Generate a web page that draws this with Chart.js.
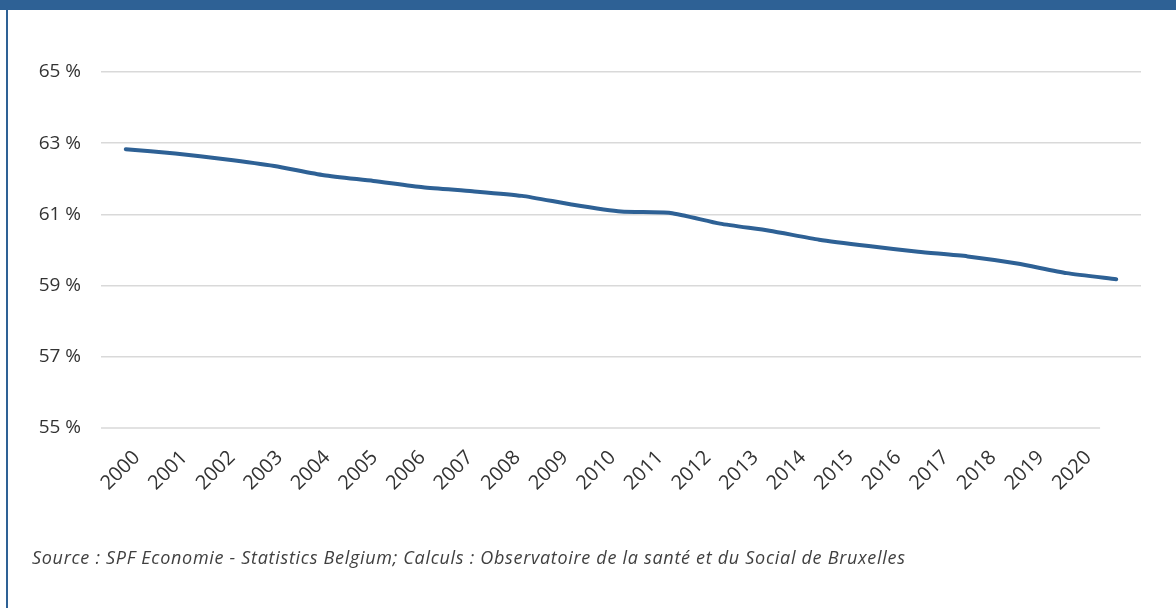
<!DOCTYPE html>
<html lang="fr">
<head>
<meta charset="utf-8">
<title>Évolution 2000-2020</title>
<script src="https://cdn.jsdelivr.net/npm/chart.js@4/dist/chart.umd.min.js"></script>
<style>
  html, body { margin: 0; padding: 0; background: #fff; }
  #cadre { position: relative; width: 1176px; height: 608px; overflow: hidden; }
  #bandeau { position: absolute; left: 0; top: 0; width: 1176px; height: 10px; background: #2e6195; }
  #bord { position: absolute; left: 6px; top: 10px; width: 2px; height: 598px; background: #2e6195; }
  #zone { position: absolute; left: 0; top: 0; width: 1176px; height: 608px; }
  #source {
    position: absolute; left: 32px; top: 545px;
    font: italic 18px "Open Sans", sans-serif; letter-spacing: 0.7px;
    color: #404040; white-space: nowrap;
  }
</style>
</head>
<body>
<div id="cadre">
  <div id="bandeau"></div>
  <div id="bord"></div>
  <div id="zone"><canvas id="graphique"></canvas></div>
  <div id="source">Source : SPF Economie - Statistics Belgium; Calculs : Observatoire de la santé et du Social de Bruxelles</div>
</div>
<script>
// Années et valeurs (%)
const annees = ['2000', '2001', '2002', '2003', '2004', '2005', '2006', '2007', '2008', '2009', '2010',
                '2011', '2012', '2013', '2014', '2015', '2016', '2017', '2018', '2019', '2020'];
const valeurs = [62.83, 62.71, 62.55, 62.36, 62.10, 61.94, 61.76, 61.65, 61.52, 61.28, 61.08,
                 61.04, 60.74, 60.54, 60.29, 60.11, 59.95, 59.82, 59.62, 59.35, 59.18];
const graduationsY = [55, 57, 59, 61, 63, 65];

const bleu = '#2e6195';
const gris = '#d9d9d9';
Chart.defaults.font.family = '"Open Sans", sans-serif';
Chart.defaults.color = '#333333';

// Ligne de base à 55 %, arrêtée à la fin de l'axe des années
const ligneDeBase = {
    id: 'ligneDeBase',
    beforeDatasetsDraw(chart) {
        const { ctx, chartArea, scales } = chart;
        const y = scales.y.getPixelForValue(55);
        const fin = scales.annees.getPixelForValue(annees.length - 0.5);
        ctx.save();
        ctx.strokeStyle = gris;
        ctx.lineWidth = 1.5;
        ctx.beginPath();
        ctx.moveTo(chartArea.left, y);
        ctx.lineTo(fin, y);
        ctx.stroke();
        ctx.restore();
    }
};

new Chart(document.getElementById('graphique'), {
    type: 'line',
    data: {
        labels: annees,
        datasets: [{
            data: valeurs,
            borderColor: bleu,
            borderWidth: 4,
            borderCapStyle: 'round',
            pointRadius: 0,
            tension: 0.2,
            fill: false
        }]
    },
    options: {
        responsive: true,
        maintainAspectRatio: false,
        animation: false,
        layout: { padding: { top: 72, right: 35, bottom: 80, left: 0 } },
        plugins: {
            legend: { display: false },
            tooltip: { enabled: false }
        },
        scales: {
            x: { display: false, offset: true },
            annees: {
                type: 'linear',
                position: 'bottom',
                min: -0.5,
                max: 21.36,
                grid: { display: false },
                border: { display: false },
                afterBuildTicks: (scale) => {
                    scale.ticks = annees.map((_, i) => ({ value: i }));
                },
                afterFit: (scale) => { scale.height = 100; },
                ticks: {
                    autoSkip: false,
                    minRotation: 45,
                    maxRotation: 45,
                    labelOffset: 12,
                    padding: 10,
                    font: { size: 20 },
                    callback: (v) => annees[v]
                }
            },
            y: {
                min: 55,
                max: 65,
                afterBuildTicks: (scale) => {
                    scale.ticks = graduationsY.map(v => ({ value: v }));
                },
                afterFit: (scale) => { scale.width = 101; },
                grid: {
                    drawTicks: false,
                    lineWidth: 1.5,
                    color: (c) => c.tick && c.tick.value === 55 ? 'rgba(0,0,0,0)' : gris
                },
                border: { display: false },
                ticks: {
                    padding: 20,
                    font: { size: 19 },
                    callback: (v) => v + ' %'
                }
            }
        }
    },
    plugins: [ligneDeBase]
});
</script>
</body>
</html>
